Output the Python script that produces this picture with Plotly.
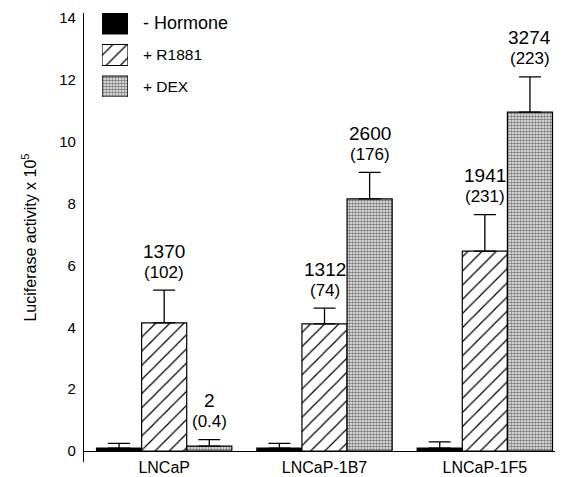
import plotly.graph_objects as go

categories = ["LNCaP", "LNCaP-1B7", "LNCaP-1F5"]
series_names = ["- Hormone", "+ R1881", "+ DEX"]

no_hormone = [0.1, 0.1, 0.1]
no_hormone_err = [0.15, 0.15, 0.2]
r1881 = [4.14, 4.11, 6.46]
r1881_err = [1.06, 0.51, 1.18]
dex = [0.16, 8.15, 10.95]
dex_err = [0.21, 0.85, 1.14]

r1881_counts = ["1370", "1312", "1941"]
r1881_sem = ["(102)", "(74)", "(231)"]
dex_counts = ["2", "2600", "3274"]
dex_sem = ["(0.4)", "(176)", "(223)"]

y_ticks = [0, 2, 4, 6, 8, 10, 12, 14]
y_min, y_max = -0.35, 14.15

FONT = "Liberation Sans, Arial, Helvetica, sans-serif"

# visual styles for the three series
styles = [
    dict(color="black", line=dict(color="black", width=1.2)),
    dict(color="white", line=dict(color="black", width=1.2),
         pattern=dict(shape="/", size=10, solidity=0.12,
                      fgcolor="black", bgcolor="white")),
    dict(color="white", line=dict(color="black", width=1.2),
         pattern=dict(shape=".", size=3, solidity=0.55,
                      fgcolor="#7a7a7a", bgcolor="#f4f4f4")),
]

fig = go.Figure()

def err(vals):
    return dict(type="data", array=vals, arrayminus=[0] * len(vals),
                symmetric=False, color="black", thickness=1.3, width=11)

for name, vals, errs, st in zip(series_names,
                                [no_hormone, r1881, dex],
                                [no_hormone_err, r1881_err, dex_err],
                                styles):
    fig.add_trace(go.Bar(name=name, x=categories, y=vals, error_y=err(errs),
                         marker=st, showlegend=False))

# legend key drawn as small bars on an auxiliary axis pair
for name, st in zip(series_names, styles):
    fig.add_trace(go.Bar(
        x=[1], y=[name], orientation="h", xaxis="x2", yaxis="y2",
        marker=st, width=0.667, offsetgroup="legend", showlegend=False,
        hoverinfo="skip"))

annotations = []
for vals, errs, counts, sems, off in [
    (r1881, r1881_err, r1881_counts, r1881_sem, 0.0),
    (dex, dex_err, dex_counts, dex_sem, 0.281),
]:
    for i, c in enumerate(categories):
        top = vals[i] + errs[i]
        annotations.append(dict(
            x=i + off, y=top, xref="x", yref="y", text=sems[i],
            showarrow=False, yanchor="middle", yshift=18,
            font=dict(size=17, color="black", family=FONT)))
        annotations.append(dict(
            x=i + off, y=top, xref="x", yref="y", text=counts[i],
            showarrow=False, yanchor="middle", yshift=39,
            font=dict(size=19, color="black", family=FONT)))

legend_text = ["<span style='font-size:18px'>" + series_names[0] + "</span>",
               series_names[1], series_names[2]]

# the page body adds an 8px offset, so the figure is 8px smaller than the window
fig.update_layout(
    template="none",
    width=555, height=469,
    margin=dict(l=76, r=6, t=5, b=15),
    paper_bgcolor="white", plot_bgcolor="white",
    barmode="group", bargap=0.156, bargroupgap=0,
    font=dict(family=FONT, color="black", size=14),
    showlegend=False,
    annotations=annotations,
    xaxis=dict(range=[-0.5, 2.45], showgrid=False, zeroline=False,
               showline=True, linecolor="black", linewidth=1.2,
               anchor="free", position=(0 - y_min) / (y_max - y_min),
               ticks="", ticklabelstandoff=2, automargin=False,
               tickfont=dict(size=16, family=FONT, color="black")),
    yaxis=dict(range=[y_min, y_max], tickvals=y_ticks, showgrid=False,
               zeroline=False, showline=True, linecolor="black", linewidth=1.2,
               ticks="", ticklabelstandoff=4, automargin=False,
               ticklabeloverflow="allow",
               tickfont=dict(size=15, family=FONT, color="black"),
               title=dict(text="Luciferase activity x 10<sup>5</sup>",
                          font=dict(size=16, family=FONT, color="black"),
                          standoff=18)),
    xaxis2=dict(domain=[0.038, 0.093], range=[0, 1], visible=False,
                anchor="y2", fixedrange=True),
    yaxis2=dict(domain=[0.8129, 1.0], range=[2.333, -0.333], anchor="x2",
                side="right", showgrid=False, zeroline=False, showline=False,
                ticks="", ticklabelstandoff=14, automargin=False,
                tickvals=series_names, ticktext=legend_text,
                tickfont=dict(size=15.5, family=FONT, color="black")),
)

fig.write_html("out.html")
